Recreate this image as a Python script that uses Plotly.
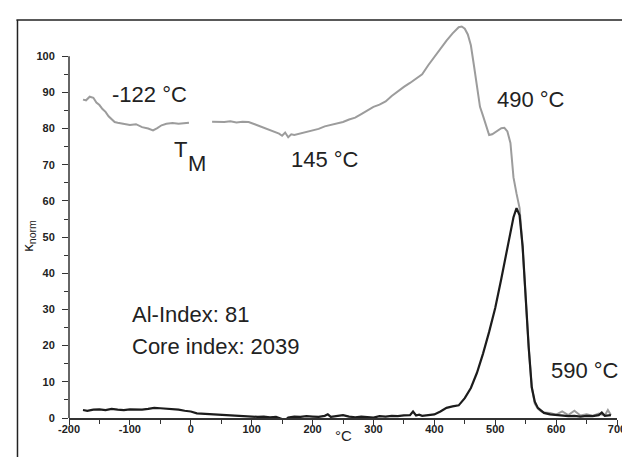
import plotly.graph_objects as go

# Gray curve (heating run), with a gap between segments
gray_x = [-177, -172, -166, -160, -155, -150, -145, -140, -135, -130, -125, -120, -110, -100, -90, -80, -70, -62, -55, -48, -40, -30, -20, -10, -3,
          None,
          35, 45, 55, 65, 75, 85, 95, 105, 115, 125, 135, 145, 150, 155, 160, 165, 170, 180, 190, 200, 210, 220, 230, 240, 250, 260, 270,
          280, 290, 300, 310, 320, 330, 340, 350, 360, 370, 380, 390, 400, 410, 420, 430, 440, 445, 450, 455, 460, 465, 470, 475, 480,
          485, 490, 495, 500, 505, 510, 515, 520, 525, 530, 535, 540, 545, 550, 555, 560, 565, 570, 575, 580, 590, 600, 610, 620, 630,
          640, 650, 660, 670, 680, 685, 690]
gray_y = [88.0, 87.8, 88.8, 88.5, 87.2, 86.5, 85.4, 84.6, 83.4, 82.5, 81.8, 81.6, 81.3, 81.0, 81.2, 80.4, 80.0, 79.5, 80.1, 80.9, 81.3, 81.5, 81.3, 81.6, 81.6,
          None,
          81.9, 81.8, 81.8, 82.0, 81.7, 81.9, 81.8, 81.2, 80.6, 80.0, 79.4, 78.6, 78.0, 78.9, 77.6, 78.4, 78.2, 78.6, 79.0, 79.4, 79.9, 80.6, 81.0, 81.5, 81.8, 82.5, 83.0,
          84.0, 85.0, 86.0, 86.6, 87.5, 89.0, 90.3, 91.5, 92.6, 93.8, 95.0, 97.5, 99.8, 102.0, 104.3, 106.3, 108.0, 108.2, 107.6, 106.0, 103.0, 97.5, 91.5, 86.0, 83.5,
          80.5, 78.2, 78.4, 79.0, 79.6, 80.1, 80.2, 79.2, 76.0, 66.5, 62.0, 58.0, 47.0, 33.0, 19.5, 8.5, 4.0, 2.6, 1.9, 1.5, 1.4, 0.9, 1.8, 0.8, 2.0,
          0.7, 1.0, 0.6, 1.2, 0.7, 2.2, 0.8]

# Black curve (cooling run)
black_x = [-177, -170, -160, -150, -140, -130, -120, -110, -100, -90, -80, -70, -60, -50, -40, -30, -20, -10, 0, 10, 20, 30, 40, 50, 60, 70, 80, 90,
           100, 110, 120, 130, 140, 150, 155, 160, 170, 180, 190, 200, 210, 220, 225, 230, 240, 250, 260, 270, 280, 290, 300, 310, 320, 330,
           340, 350, 360, 365, 370, 375, 380, 390, 400, 410, 420, 430, 440, 450, 460, 470, 480, 490, 500, 510, 520, 525, 530, 535, 540, 545,
           550, 555, 560, 565, 570, 575, 580, 590, 600, 610, 620, 630, 640, 650, 660, 670, 675, 680, 690]
black_y = [2.2, 2.0, 2.3, 2.4, 2.2, 2.5, 2.3, 2.2, 2.4, 2.3, 2.3, 2.5, 2.8, 2.7, 2.6, 2.4, 2.3, 2.0, 1.8, 1.3, 1.2, 1.0, 0.9, 0.8, 0.6, 0.5, 0.6, 0.3,
           0.4, 0.3, 0.4, 0.2, 0.3, -0.3, -0.6, 0.1, 0.4, 0.3, 0.5, 0.4, 0.3, 0.6, 1.0, 0.3, 0.5, 0.8, 0.4, 0.2, 0.4, 0.3, 0.1, 0.5, 0.4, 0.6,
           0.5, 0.7, 0.8, 1.8, 0.7, 0.9, 0.6, 0.8, 1.0, 1.8, 2.8, 3.2, 3.5, 5.5, 8.3, 12.5, 17.8, 23.8, 30.4, 38.5, 46.5, 51.0, 55.5, 58.0, 56.0, 47.5,
           33.0, 19.5, 8.5, 4.5, 2.8, 2.0, 1.4, 1.0, 0.8, 0.7, 0.5, 0.6, 0.4, 0.6, 0.5, 0.8, 1.5, 0.6, 0.8]

x_ticks = [-200, -100, 0, 100, 200, 300, 400, 500, 600, 700]
x_tick_text = ["-200", "-100", "0", "100", "200", "300", "400", "500", "600", "700"]
x_minor = [-150, -50, 50, 150, 250, 350, 450, 550, 650]
y_ticks = [0, 10, 20, 30, 40, 50, 60, 70, 80, 90, 100]
y_minor = [5, 15, 25, 35, 45, 55, 65, 75, 85, 95]

FONT = "Liberation Sans, Arial, sans-serif"
TXT = "#222222"

fig = go.Figure()
fig.add_trace(go.Scatter(x=gray_x, y=gray_y, mode="lines",
                         line=dict(color="#9c9c9c", width=2), connectgaps=False, showlegend=False))
fig.add_trace(go.Scatter(x=black_x, y=black_y, mode="lines",
                         line=dict(color="#1c1c1c", width=2.2), showlegend=False))

fig.update_layout(
    width=630, height=457,
    margin=dict(l=61, r=12, t=12, b=47),
    paper_bgcolor="white", plot_bgcolor="white",
    font=dict(family=FONT, color=TXT),
    xaxis=dict(range=[-200, 700], tickvals=x_ticks, ticktext=x_tick_text, ticks="outside", ticklen=5, tickwidth=1.3,
               tickcolor="#333", showline=True, linecolor="#333", linewidth=1.5,
               showgrid=False, zeroline=False, ticklabelstandoff=-5,
               tickfont=dict(size=11, family=FONT, weight="bold", color=TXT),
               minor=dict(tickvals=x_minor, ticks="outside", ticklen=4, tickwidth=1.2, tickcolor="#333")),
    yaxis=dict(range=[0, 110], tickvals=y_ticks, ticks="outside", ticklen=6, tickwidth=1.3,
               tickcolor="#333", showline=False, showgrid=False, zeroline=False, ticklabelstandoff=5,
               tickfont=dict(size=11, family=FONT, weight="bold", color=TXT),
               minor=dict(tickvals=y_minor, ticks="outside", ticklen=4, tickwidth=1.2, tickcolor="#333")),
)

# y axis line only up to 100
fig.add_shape(type="line", xref="paper", yref="y", x0=0, x1=0, y0=-0.5, y1=100,
              line=dict(color="#333", width=1.5))
# outer frame (left and top edges)
fig.add_shape(type="line", xref="paper", yref="paper", x0=-0.094, x1=-0.094, y0=1.0, y1=-0.2,
              line=dict(color="#222", width=1.5))
fig.add_shape(type="line", xref="paper", yref="paper", x0=-0.096, x1=1.05, y0=1.0, y1=1.0,
              line=dict(color="#222", width=1.5))

def ann(text, x, y, size=22, xanchor="center", **kw):
    fig.add_annotation(text=text, x=x, y=y, xref="x", yref="y", showarrow=False,
                       xanchor=xanchor, yanchor="middle",
                       font=dict(size=size, family=FONT, color=TXT), **kw)

ann("-122 °C", -67, 89.5)
ann("T", -17, 74.1)
ann("M", 9.5, 70.4)
ann("145 °C", 221, 71.5)
ann("490 °C", 559, 87.9)
ann("590 °C", 648, 13.0)
ann("Al-Index: 81", -100, 28.5, xanchor="left")
ann("Core index: 2039", -100, 19.9, xanchor="left")

# axis titles
fig.add_annotation(text="°C", x=(340 - 61) / 557, y=-0.045, xref="paper", yref="paper",
                   showarrow=False, xanchor="center", yanchor="middle",
                   font=dict(size=15, family=FONT, color=TXT))
fig.add_annotation(text="κ<sub>norm</sub>", x=-(61 - 19) / 557, y=(410 - 228) / 398,
                   xref="paper", yref="paper", showarrow=False, textangle=-90,
                   xanchor="center", yanchor="middle",
                   font=dict(size=15, family=FONT, color=TXT))

fig.write_html("out.html")
